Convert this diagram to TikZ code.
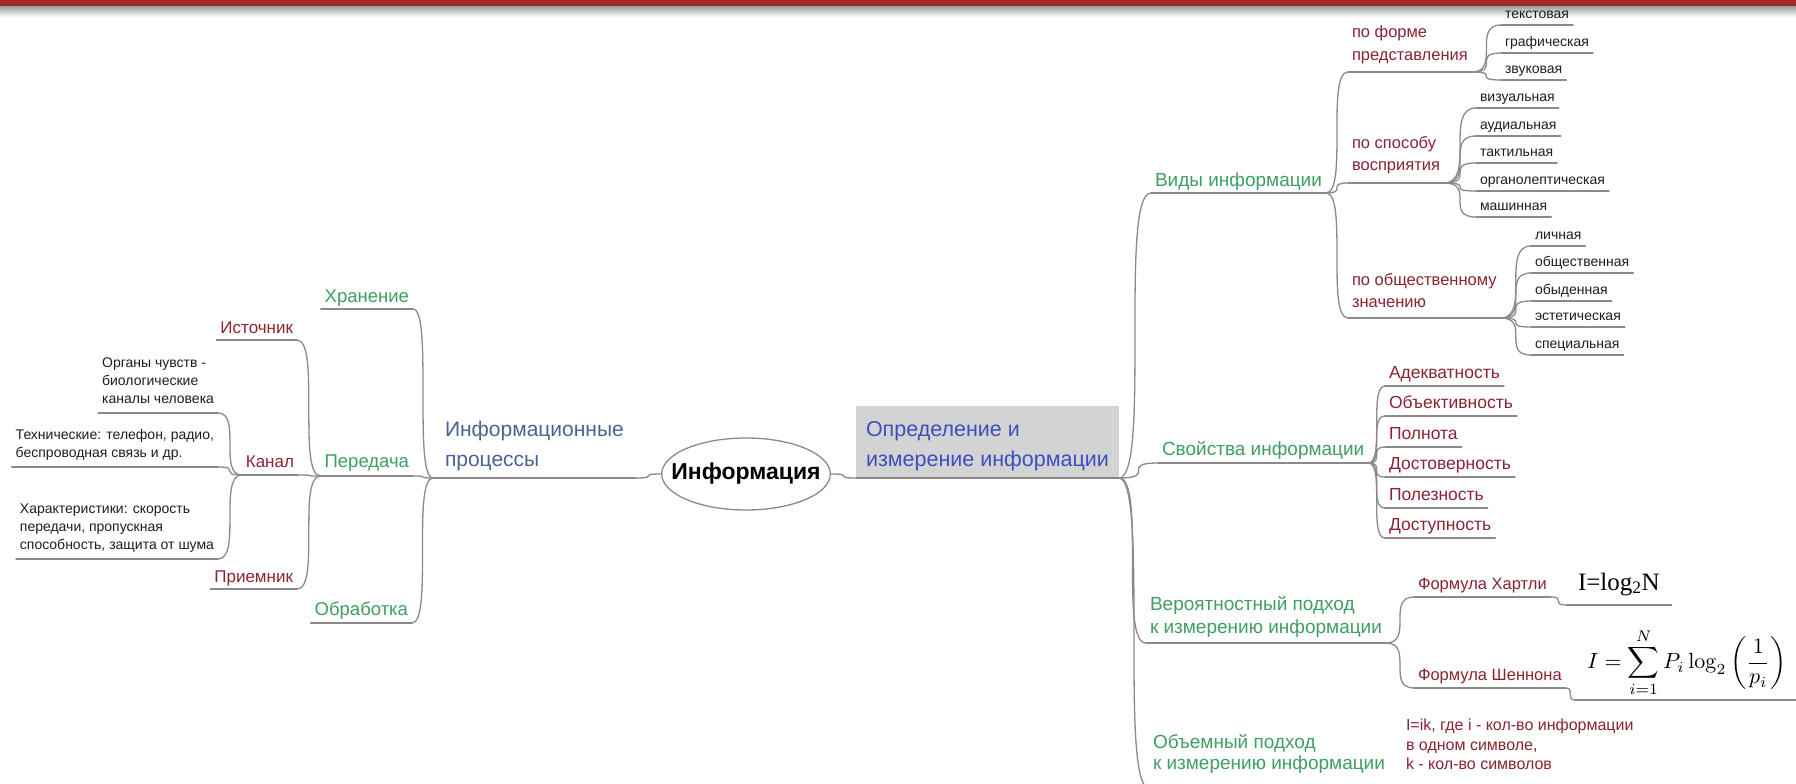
\documentclass[tikz,border=0pt]{standalone}
\usepackage[no-math]{fontspec}
\usepackage{graphicx}
\setmainfont{Liberation Sans}
\newfontfamily\serifm{Liberation Serif}
\usetikzlibrary{shapes.geometric,calc}
\definecolor{linecol}{HTML}{8A8A8A}
\definecolor{lblue}{HTML}{4A6391}
\definecolor{dblue}{HTML}{3B4FC0}
\definecolor{lgreen}{HTML}{3F9F63}
\definecolor{lred}{HTML}{8B2332}
\definecolor{ldark}{HTML}{1E1E1E}
\definecolor{barred}{HTML}{9E2A2B}
\definecolor{boxgray}{HTML}{D3D3D3}
\newcommand\gp[1]{\rule[-#1pt]{0pt}{#1pt}}
\newcommand\lnk[2]{\draw[link] let \p1=#1, \p2=#2, \n1={\x2-\x1}, \n2={\x1-\x2} in (\p1) .. controls +(\n1,0) and +(\n2,0) .. (\p2);}
\newcommand\ul[1]{\draw[link] (#1.south west) -- (#1.south east);}
\tikzset{
 link/.style={draw=linecol, line width=1.3pt, line cap=round},
 tx/.style={inner xsep=4pt, inner ysep=0pt, outer sep=0pt, align=left},
 lone/.style={tx, inner xsep=12pt, text=lblue, font=\fontsize{21}{30}\selectfont},
 ltwo/.style={tx, text=lgreen, font=\fontsize{18.5}{23}\selectfont},
 ltwor/.style={tx, text=lgreen, font=\fontsize{19}{23}\selectfont},
 lthree/.style={tx, text=lred, font=\fontsize{17}{22}\selectfont},
 lthreeb/.style={tx, text=lred, font=\fontsize{17.5}{22}\selectfont},
 lthrees/.style={tx, text=lred, font=\fontsize{16.5}{22}\selectfont},
 lfour/.style={tx, text=ldark, font=\fontsize{14}{18}\selectfont},
}
\begin{document}
\begin{tikzpicture}[x=1pt,y=-1pt]
\useasboundingbox (0,0) rectangle (1796,784);
\clip (0,0) rectangle (1796,784);
\fill[white] (0,0) rectangle (1796,784);
\fill[barred] (0,0) rectangle (1796,7);
\shade[top color=black!35, bottom color=white] (0,7) rectangle (1796,17);

% centre
\node[ellipse, draw=linecol, line width=1.3pt, minimum height=72pt, inner xsep=-15pt, inner ysep=0pt, fill=white, font=\bfseries\fontsize{23}{26}\selectfont] (info) at (746,474) {Информация};

% left branch
\node[lone, anchor=south west] (ip) at (433,478) {Информационные\\процессы\gp{12}};
\node[ltwo, anchor=south east] (hran) at (413,309) {Хранение\gp{7}};
\node[ltwo, anchor=south east] (pered) at (413,476) {Передача\gp{9}};
\node[ltwo, anchor=south east] (obr) at (412,623) {Обработка\gp{8}};
\node[lthree, anchor=south east] (ist) at (297,340) {Источник\gp{7}};
\node[lthree, anchor=south east] (kan) at (298,475) {Канал\gp{8}};
\node[lthree, anchor=south east] (priem) at (297,589) {Приемник\gp{7}};
\node[lfour, anchor=south east] (org) at (218,413) {Органы чувств -\\биологические\\каналы человека\gp{10}};
\node[lfour, anchor=south east] (tech) at (218,467) {Технические: телефон, радио,\\беспроводная связь и др.\gp{10}};
\node[lfour, anchor=south east] (har) at (218,559) {Характеристики: скорость\\передачи, пропускная\\способность, защита от шума\gp{10}};

\foreach \n in {ip,hran,pered,obr,ist,kan,priem,org,tech,har} {\ul{\n}}
\lnk{(ip.south east)}{(info.west)}
\foreach \c in {hran,pered,obr} {\lnk{(ip.south west)}{(\c.south east)}}
\foreach \c in {ist,kan,priem} {\lnk{(pered.south west)}{(\c.south east)}}
\foreach \c in {org,tech,har} {\lnk{(kan.south west)}{(\c.south east)}}

% right branch
\node[tx, inner xsep=10pt, fill=boxgray, text=dblue, font=\fontsize{21.5}{30}\selectfont, anchor=south west] (opr) at (856,478) {\rule{0pt}{30pt}Определение и\\измерение информации\gp{12}};
\lnk{(info.east)}{(opr.south west)}

\node[ltwor, anchor=south west] (vidy) at (1151,193) {Виды информации\gp{7}};
\node[ltwor, anchor=south west] (svo) at (1158,463) {Свойства информации\gp{8}};
\node[ltwor, anchor=south west] (ver) at (1146,643) {Вероятностный подход\\к измерению информации\gp{10}};
\node[ltwor, font=\fontsize{19}{21}\selectfont, anchor=south west] (obm) at (1149,788) {Объемный подход\\к измерению информации\gp{18.5}};

\node[lthrees, anchor=south west] (forma) at (1348,72) {по форме\\представления\gp{12}};
\node[lthrees, anchor=south west] (sposob) at (1348,183) {по способу\\восприятия\gp{13}};
\node[lthrees, anchor=south west] (obsch) at (1348,318) {по общественному\\значению\gp{11}};

\node[lfour, anchor=south west] (tekst) at (1501,25) {текстовая\gp{6.5}};
\node[lfour, anchor=south west] (graf) at (1501,53) {графическая\gp{6.5}};
\node[lfour, anchor=south west] (zvuk) at (1501,80) {звуковая\gp{6.5}};
\node[lfour, anchor=south west] (viz) at (1476,108) {визуальная\gp{6.5}};
\node[lfour, anchor=south west] (aud) at (1476,136) {аудиальная\gp{6.5}};
\node[lfour, anchor=south west] (takt) at (1476,163) {тактильная\gp{6.5}};
\node[lfour, anchor=south west] (organ) at (1476,191) {органолептическая\gp{6.5}};
\node[lfour, anchor=south west] (mash) at (1476,217) {машинная\gp{6.5}};
\node[lfour, anchor=south west] (lich) at (1531,246) {личная\gp{6.5}};
\node[lfour, anchor=south west] (obshch) at (1531,273) {общественная\gp{6.5}};
\node[lfour, anchor=south west] (obyd) at (1531,301) {обыденная\gp{6.5}};
\node[lfour, anchor=south west] (est) at (1531,327) {эстетическая\gp{6.5}};
\node[lfour, anchor=south west] (spec) at (1531,355) {специальная\gp{6.5}};

\node[lthreeb, anchor=south west] (adek) at (1385,386) {Адекватность\gp{8}};
\node[lthreeb, anchor=south west] (objekt) at (1385,416) {Объективность\gp{8}};
\node[lthreeb, anchor=south west] (poln) at (1385,447) {Полнота\gp{8}};
\node[lthreeb, anchor=south west] (dost) at (1385,477) {Достоверность\gp{8}};
\node[lthreeb, anchor=south west] (polez) at (1385,508) {Полезность\gp{8}};
\node[lthreeb, anchor=south west] (dostup) at (1385,538) {Доступность\gp{8}};

\node[lthrees, anchor=south west] (hart) at (1414,597) {Формула Хартли\gp{8}};
\node[lthrees, anchor=south west] (shen) at (1414,688) {Формула Шеннона\gp{8}};
\node[tx, inner xsep=12pt, anchor=south west, text=black, font=\serifm\fontsize{25}{28}\selectfont] (hf) at (1566,605) {I=log\textsubscript{2}N\gp{15}};
\node[tx, inner xsep=12pt, inner ysep=3pt, anchor=south west, text=black] (sf) at (1575,700) {\scalebox{2.2}{$\displaystyle I=\sum_{i=1}^{N}P_i\log_2\left(\frac{1}{p_i}\right)$}};

\node[lthree, font=\fontsize{16}{19.5}\selectfont, anchor=south west] (ik) at (1402,788) {I=ik, где i - кол-во информации\\в одном символе,\\k - кол-во символов\gp{18.5}};

\foreach \n in {opr,vidy,svo,ver,obm,forma,sposob,obsch,tekst,graf,zvuk,viz,aud,takt,organ,mash,lich,obshch,obyd,est,spec,adek,objekt,poln,dost,polez,dostup,hart,shen,hf,sf,ik} {\ul{\n}}
\foreach \c in {vidy,svo,ver,obm} {\lnk{(opr.south east)}{(\c.south west)}}
\foreach \c in {forma,sposob,obsch} {\lnk{(vidy.south east)}{(\c.south west)}}
\foreach \c in {tekst,graf,zvuk} {\lnk{(forma.south east)}{(\c.south west)}}
\foreach \c in {viz,aud,takt,organ,mash} {\lnk{(sposob.south east)}{(\c.south west)}}
\foreach \c in {lich,obshch,obyd,est,spec} {\lnk{(obsch.south east)}{(\c.south west)}}
\foreach \c in {adek,objekt,poln,dost,polez,dostup} {\lnk{(svo.south east)}{(\c.south west)}}
\foreach \c in {hart,shen} {\lnk{(ver.south east)}{(\c.south west)}}
\lnk{(hart.south east)}{(hf.south west)}
\lnk{(shen.south east)}{(sf.south west)}
\lnk{(obm.south east)}{(ik.south west)}
\end{tikzpicture}
\end{document}
